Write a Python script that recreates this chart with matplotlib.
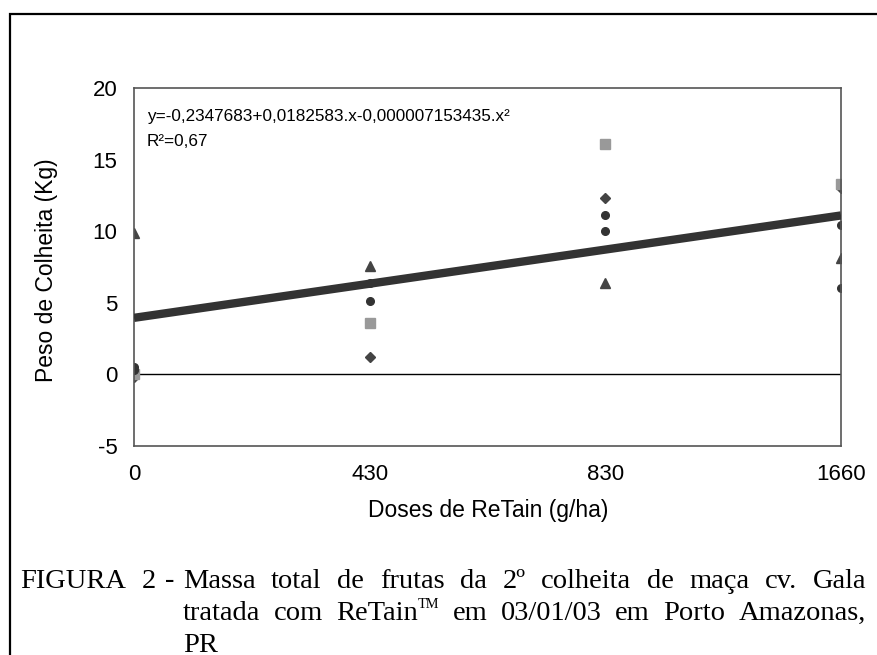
import matplotlib
matplotlib.use("Agg")
import matplotlib.pyplot as plt
from matplotlib.patches import Rectangle

plt.rcParams["axes.unicode_minus"] = False

# doses (categorical axis) and repetitions
doses = ["0", "430", "830", "1660"]
rep_diamond = [-0.2, 1.2, 12.3, 13.0]
rep_square = [0.0, 3.6, 16.1, 13.3]
rep_triangle = [9.9, 7.6, 6.4, 8.1]
rep_circle1 = [0.5, 6.4, 11.1, 10.4]
rep_circle2 = [0.3, 5.1, 10.0, 6.0]
trend = [3.95, 11.1]  # ends of the fitted line

equation = "y=-0,2347683+0,0182583.x-0,000007153435.x²"
r2 = "R²=0,67"
caption = [
    "Massa total de frutas da 2º colheita de maça cv. Gala",
    "tratada com ReTain|TM em 03/01/03 em Porto Amazonas,",
    "PR",
]

W, H = 878, 655
fig = plt.figure(figsize=(W / 100, H / 100), dpi=100)
fig.patch.set_facecolor("white")

# outer frame of the figure (right and bottom run off the image)
fig.patches.append(Rectangle((10 / W, -0.1), 1.2, 1 - 14 / H + 0.1,
                             transform=fig.transFigure, fill=False,
                             edgecolor="black", linewidth=1.6))

ax = fig.add_axes([134 / W, 1 - 446 / H, (841 - 134) / W, (446 - 88) / H])
x = list(range(len(doses)))

ax.axhline(0, color="black", linewidth=1.0, zorder=1)
ax.plot(x, rep_diamond, "D", color="#444444", markersize=5.5, linestyle="none", zorder=2)
ax.plot(x, rep_square, "s", color="#999999", markersize=7.5, linestyle="none", zorder=2)
ax.plot(x, rep_triangle, "^", color="#444444", markersize=7.5, linestyle="none", zorder=2)
ax.plot(x, rep_circle1, "o", color="#333333", markersize=5.5, linestyle="none", zorder=2)
ax.plot(x, rep_circle2, "o", color="#333333", markersize=5.5, linestyle="none", zorder=2)
ax.plot([x[0], x[-1]], trend, color="#333333", linewidth=6, solid_capstyle="butt", zorder=3)

ax.set_xlim(0, 3)
ax.set_ylim(-5, 20)
ax.set_xticks(x)
ax.set_xticklabels(doses)
ax.set_yticks([-5, 0, 5, 10, 15, 20])
ax.tick_params(axis="y", length=0, labelsize=16, pad=12)
ax.tick_params(axis="x", length=0, labelsize=16, pad=13)
for lab in ax.get_xticklabels() + ax.get_yticklabels():
    lab.set_fontfamily("Liberation Sans")
for s in ax.spines.values():
    s.set_color("#555555")
    s.set_linewidth(1.2)

ax.set_xlabel("Doses de ReTain (g/ha)", fontsize=16.5, family="Liberation Sans", va="center")
ax.xaxis.set_label_coords((488 - 134) / 707, (446 - 510) / 358)
ax.set_ylabel("Peso de Colheita (Kg)", fontsize=16.5, family="Liberation Sans", va="center")
ax.yaxis.set_label_coords((47 - 134) / 707, (446 - 270) / 358)

ax.text(0.018, 0.94, equation, transform=ax.transAxes, fontsize=12.3,
        family="Liberation Sans", va="top")
ax.text(0.018, 0.872, r2, transform=ax.transAxes, fontsize=12.3,
        family="Liberation Sans", va="top")

# caption, justified by hand ("|" marks a small superscript part)
fs = 20.5
ys = [581, 613, 645]
for txt, px in [("FIGURA", 20), ("2", 142), ("-", 165)]:
    fig.text(px / W, 1 - ys[0] / H, txt, fontsize=fs, family="Liberation Serif", va="center")
renderer = fig.canvas.get_renderer()
x0, x1 = 183, 866
for i, line in enumerate(caption):
    words = []
    for w in line.split(" "):
        main, _, sup = w.partition("|")
        a = fig.text(0, 1 - ys[i] / H, main, fontsize=fs, family="Liberation Serif", va="center")
        b = None
        if sup:
            b = fig.text(0, 1 - (ys[i] - 8) / H, sup, fontsize=fs * 0.5,
                         family="Liberation Serif", va="center")
        wa = a.get_window_extent(renderer).width
        wb = b.get_window_extent(renderer).width if b else 0
        words.append((a, b, wa, wa + wb))
    total = sum(w[3] for w in words)
    if i < len(caption) - 1 and len(words) > 1:
        gap = (x1 - x0 - total) / (len(words) - 1)
    else:
        gap = 6
    pos = x0
    for a, b, wa, wt in words:
        a.set_x(pos / W)
        if b is not None:
            b.set_x((pos + wa) / W)
        pos += wt + gap

fig.savefig("out.png", dpi=100)
